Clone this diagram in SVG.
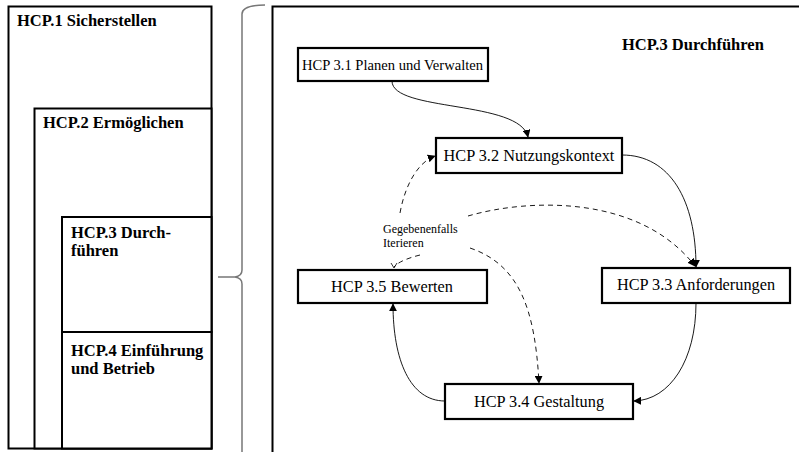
<svg xmlns="http://www.w3.org/2000/svg" width="799" height="452" viewBox="0 0 799 452">
<style>
.frame{fill:#fff;stroke:#000;stroke-width:2}
.node{fill:#fff;stroke:#000;stroke-width:2.2}
.t{font-family:"Liberation Serif","Times New Roman",serif;fill:#000}
.b{font-weight:bold;font-size:16.5px}
.n{font-size:16.3px;text-anchor:middle}
.c{fill:none;stroke:#000;stroke-width:0.9}
.d{fill:none;stroke:#000;stroke-width:0.9;stroke-dasharray:5,4}
</style>
<defs>
<marker id="ah" viewBox="0 0 10 10" refX="9" refY="5" markerWidth="8" markerHeight="8" markerUnits="userSpaceOnUse" orient="auto">
<path d="M0,0 L10,5 L0,10 z" fill="#000"/>
</marker>
</defs>
<g id="hcp1">
<rect class="frame" x="8.5" y="6.5" width="203" height="442"/>
<text class="t b" x="17" y="26">HCP.1 Sicherstellen</text>
</g>
<g id="hcp2">
<rect class="frame" x="34.5" y="108.5" width="177" height="340"/>
<text class="t b" x="43" y="128">HCP.2 Ermöglichen</text>
</g>
<g id="hcp3">
<rect class="frame" x="62" y="217" width="149.5" height="115"/>
<text class="t b" x="71" y="238">HCP.3 Durch-</text>
<text class="t b" x="71" y="256">führen</text>
</g>
<g id="hcp4">
<rect class="frame" x="62" y="332" width="149.5" height="116.5"/>
<text class="t b" x="71" y="356">HCP.4 Einführung</text>
<text class="t b" x="71" y="374">und Betrieb</text>
</g>
<g id="brace">
<path d="M265,5 Q242,5 242,14 L242,270 Q242,276 235,277 L218,277 M235,277 Q242,278 242,284 L242,460" fill="none" stroke="#777" stroke-width="1.5"/>
</g>
<g id="hcp3-detail">
<rect class="frame" x="272.5" y="6.5" width="540" height="460"/>
<text class="t b" x="622" y="50">HCP.3 Durchführen</text>
</g>
<g id="connectors">
<path class="c" d="M392,81 C392,112 520,100 528,137" marker-end="url(#ah)"/>
<path class="c" d="M622,155 C670,155 696,200 696,267" marker-end="url(#ah)"/>
<path class="c" d="M696,303 C696,360 670,400 634,401" marker-end="url(#ah)"/>
<path class="c" d="M445,401 C410,401 393,360 393,304" marker-end="url(#ah)"/>
<path class="d" d="M400,213 C405,185 418,162 435,156" marker-end="url(#ah)"/>
<path class="d" d="M468,216 C530,198 640,195 695,266" marker-end="url(#ah)"/>
<path class="d" d="M470,248 C520,265 535,310 539,383" marker-end="url(#ah)"/>
<path class="d" d="M420,255 C408,258 398,262 394,267"/>
<path d="M391,263 L394,268 L397,263" fill="none" stroke="#000" stroke-width="0.8"/>
<text class="t" x="383" y="233" font-size="12px">Gegebenenfalls</text>
<text class="t" x="383" y="247" font-size="12px">Iterieren</text>
</g>
<g id="n31">
<rect class="node" x="298" y="48" width="190" height="33"/>
<text class="t" x="302" y="70" font-size="14px" textLength="181" lengthAdjust="spacingAndGlyphs">HCP 3.1 Planen und Verwalten</text>
</g>
<g id="n32">
<rect class="node" x="436" y="138" width="186" height="35"/>
<text class="t n" x="529" y="161">HCP 3.2 Nutzungskontext</text>
</g>
<g id="n33">
<rect class="node" x="602" y="268" width="188" height="35"/>
<text class="t n" x="696" y="290">HCP 3.3 Anforderungen</text>
</g>
<g id="n34">
<rect class="node" x="445" y="384" width="188" height="35"/>
<text class="t n" x="539" y="407">HCP 3.4 Gestaltung</text>
</g>
<g id="n35">
<rect class="node" x="298" y="270" width="189" height="33"/>
<text class="t n" x="392" y="292">HCP 3.5 Bewerten</text>
</g>
</svg>
